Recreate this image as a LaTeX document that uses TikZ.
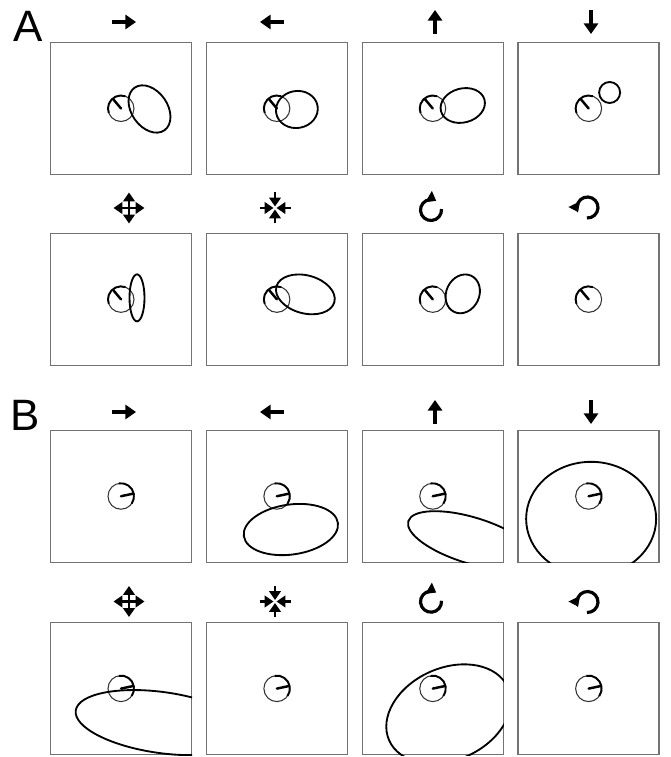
\documentclass[tikz,border=0pt]{standalone}
\usepackage{fontspec}
\setsansfont{Liberation Sans}
\usetikzlibrary{arrows.meta, positioning}

\begin{document}
\begin{tikzpicture}[
    x=0.02cm, y=0.02cm,
    panel/.style={rectangle, draw=black!55, line width=0.8pt, minimum width=2.82cm, minimum height=2.64cm, inner sep=0pt},
    dial/.style={circle, draw=black!80, line width=0.6pt, minimum size=0.52cm, inner sep=0pt},
    hand/.style={line width=1.4pt, line cap=round},
    trail/.style={line width=1.1pt},
    resp/.style={line width=1.05pt},
    move/.style={line width=2pt, -{Triangle[width=8pt, length=6pt]}},
    spread/.style={line width=1.3pt, -{Triangle[width=6.5pt, length=5pt]}},
    turn/.style={line width=1.8pt, -{Triangle[width=7pt, length=5pt]}},
    letter/.style={font=\sffamily\fontsize{25}{25}\selectfont, inner sep=0pt},
]
    \useasboundingbox (0,0) rectangle (670,757);

    % panels
    \node[panel] (a1) at (121,648.5) {};
    \node[panel, right=0.27cm of a1] (a2) {};
    \node[panel, right=0.27cm of a2] (a3) {};
    \node[panel, right=0.27cm of a3] (a4) {};
    \node[panel, below=1.15cm of a1] (a5) {};
    \node[panel, right=0.27cm of a5] (a6) {};
    \node[panel, right=0.27cm of a6] (a7) {};
    \node[panel, right=0.27cm of a7] (a8) {};
    \node[panel, below=1.27cm of a5] (b1) {};
    \node[panel, right=0.27cm of b1] (b2) {};
    \node[panel, right=0.27cm of b2] (b3) {};
    \node[panel, right=0.27cm of b3] (b4) {};
    \node[panel, below=1.18cm of b1] (b5) {};
    \node[panel, right=0.27cm of b5] (b6) {};
    \node[panel, right=0.27cm of b6] (b7) {};
    \node[panel, right=0.27cm of b7] (b8) {};

    \node[letter] (la) at (28,731) {A};
    \node[letter] (lb) at (25.3,341.5) {B};

    % dials
    \foreach \p in {a1,a2,a3,a4,a5,a6,a7,a8} {
        \node[dial] (d\p) at (\p) {};
        \draw[trail] (d\p.center) ++(70:13) arc[start angle=70, end angle=200, radius=13];
        \draw[hand] (d\p.center) -- ++(130:12);
    }
    \foreach \p in {b1,b2,b3,b4,b5,b6,b7,b8} {
        \node[dial] (d\p) at (\p) {};
        \draw[trail] (d\p.center) ++(100:13) arc[start angle=100, end angle=-35, radius=13];
        \draw[hand] (d\p.center) -- ++(12:12);
    }

    % responses, A
    \draw[resp] (a1.center) ++(28.5,-0.5) ellipse[x radius=26, y radius=18, rotate=-55];
    \draw[resp] (a2.center) ++(20,-1) ellipse[x radius=21, y radius=18.5, rotate=10];
    \draw[resp] (a3.center) ++(30,3) ellipse[x radius=22.5, y radius=17, rotate=15];
    \draw[resp] (a4.center) ++(21,16) circle[radius=10.5];
    \draw[resp] (a5.center) ++(16,1.5) ellipse[x radius=7.5, y radius=23.5];
    \draw[resp] (a6.center) ++(28.5,5) ellipse[x radius=30, y radius=19, rotate=-15];
    \draw[resp] (a7.center) ++(30,5.5) ellipse[x radius=20, y radius=16.5, rotate=65];

    % responses, B
    \draw[resp] (b2.center) ++(14,-33.3) ellipse[x radius=47.5, y radius=25, rotate=8];
    \begin{scope}
        \clip (b3.south west) rectangle (b3.north east);
        \draw[resp] (b3.center) ++(38.7,-44.2) ellipse[x radius=66, y radius=23, rotate=-17];
    \end{scope}
    \begin{scope}
        \clip (b4.south west) rectangle (b4.north east);
        \draw[resp] (b4.center) ++(2.5,-22.6) ellipse[x radius=65, y radius=57];
    \end{scope}
    \begin{scope}
        \clip (b5.south west) rectangle (b5.north east);
        \draw[resp] (b5.center) ++(40.9,-34) ellipse[x radius=87, y radius=30.5, rotate=-8];
    \end{scope}
    \begin{scope}
        \clip (b7.south west) rectangle (b7.north east);
        \draw[resp] (b7.center) ++(15.8,-25.4) ellipse[x radius=65, y radius=46, rotate=24];
    \end{scope}

    % stimulus icons
    \coordinate (ia1) at (124,735);
    \coordinate (ia2) at (272,735);
    \coordinate (ia3) at (435,735);
    \coordinate (ia4) at (591,735);
    \coordinate (ia5) at (129,549);
    \coordinate (ia6) at (275,549);
    \coordinate (ia7) at (431,547);
    \coordinate (ia8) at (587.5,549.5);
    \coordinate (ib1) at (124,345);
    \coordinate (ib2) at (272,345);
    \coordinate (ib3) at (435,345);
    \coordinate (ib4) at (591,345);
    \coordinate (ib5) at (129,155.5);
    \coordinate (ib6) at (275,155.5);
    \coordinate (ib7) at (431,155.3);
    \coordinate (ib8) at (587.5,155);

    \foreach \r in {a,b} {
        \draw[move] (i\r1) ++(-12,0) -- ++(24,0);
        \draw[move] (i\r2) ++(12,0) -- ++(-24,0);
        \draw[move] (i\r3) ++(0,-12) -- ++(0,24);
        \draw[move] (i\r4) ++(0,12) -- ++(0,-24);
        \foreach \a in {0,90,180,270} {
            \draw[spread] (i\r5) -- ++(\a:15.5);
            \draw[spread] (i\r6) ++(\a:15.5) -- ++(\a:-14);
        }
        \draw[turn] (i\r7) ++(5:10.5) arc[start angle=5, end angle=-300, radius=10.5];
        \draw[turn] (i\r8) ++(-93:10.5) arc[start angle=-93, end angle=206, radius=10.5];
    }
\end{tikzpicture}
\end{document}
